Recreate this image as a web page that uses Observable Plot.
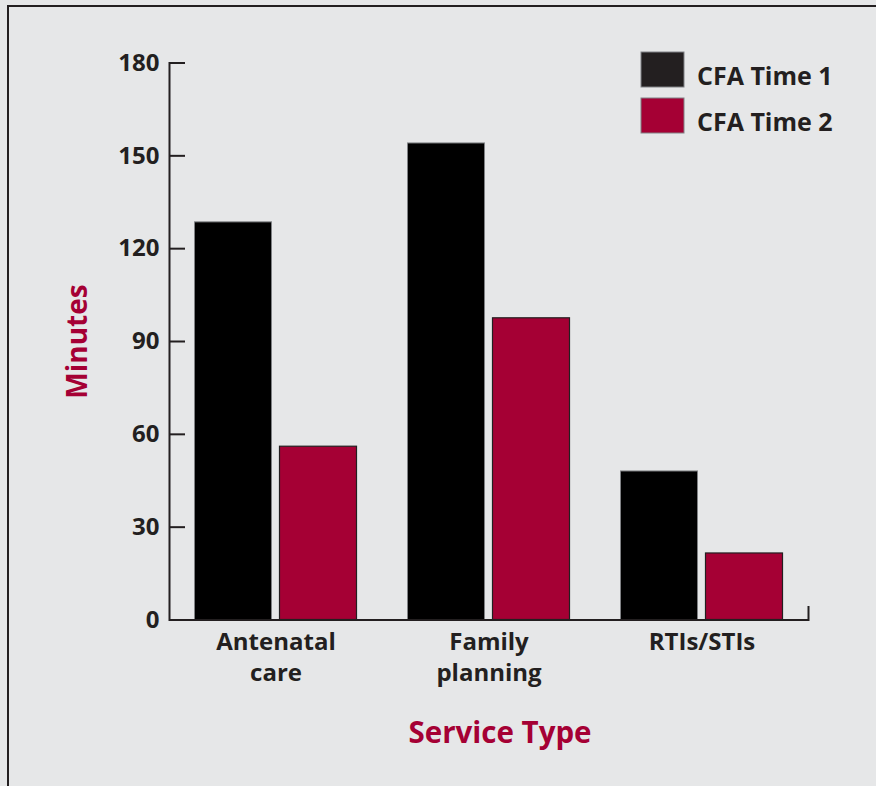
<!DOCTYPE html>
<html><head><meta charset="utf-8">
<script src="https://cdn.jsdelivr.net/npm/d3@7"></script>
<script src="https://cdn.jsdelivr.net/npm/@observablehq/plot@0.6"></script>
<style>
html,body{margin:0;padding:0;background:#e6e7e8;}
#wrap{position:relative;width:876px;height:786px;overflow:hidden;}
#border{position:absolute;left:6.5px;top:4.5px;width:900px;height:900px;border-left:2.6px solid #231f20;border-top:2.6px solid #231f20;}
#chart{position:absolute;left:0;top:0;}
</style></head><body>
<div id="wrap"><div id="border"></div><div id="chart"></div></div>
<script>
const categories = ["Antenatal care", "Family planning", "RTIs/STIs"];
const categoryLabels = ["Antenatal\ncare", "Family\nplanning", "RTIs/STIs"];
const series = ["CFA Time 1", "CFA Time 2"];
const time1 = [128.5, 154, 48];
const time2 = [56, 97.5, 21.5];
const yTicks = [0, 30, 60, 90, 120, 150, 180];
const yTitle = "Minutes";
const xTitle = "Service Type";

const ink = "#231f20";
const red = "#a50034";
const barColors = ["#000000", red];
const swatchColors = [ink, red];
const font = "'Open Sans', sans-serif";

const rows1 = categories.map((c, i) => ({category: c, value: time1[i]}));
const rows2 = categories.map((c, i) => ({category: c, value: time2[i]}));

const plot = Plot.plot({
  width: 876, height: 786,
  marginLeft: 169, marginRight: 68, marginTop: 62.5, marginBottom: 166.5,
  style: {background: "transparent", fontFamily: font, color: ink, overflow: "visible"},
  x: {type: "band", domain: categories, paddingInner: 0.2394, paddingOuter: 0.1197, round: false},
  y: {domain: [0, 180]},
  marks: [
    Plot.barY(rows1, {x: "category", y: "value", fill: barColors[0], stroke: "#808285", strokeWidth: 1, insetRight: 85}),
    Plot.barY(rows2, {x: "category", y: "value", fill: barColors[1], stroke: ink, strokeWidth: 1.2, insetLeft: 85}),
    Plot.frame({anchor: "left", stroke: ink, strokeWidth: 2}),
    Plot.ruleY([0], {stroke: ink, strokeWidth: 2}),
    Plot.frame({anchor: "right", stroke: ink, strokeWidth: 2, insetTop: 544}),
    Plot.axisY({ticks: yTicks, tickSize: 16, dx: 16, tickFormat: () => "", stroke: ink, strokeWidth: 2, label: null}),
    Plot.axisY({ticks: yTicks, tickSize: 0, tickPadding: 10, fontSize: 24, fontWeight: "bold", fill: ink, label: null}),
    Plot.axisX({tickSize: 0, tickPadding: 8, fontSize: 24, fontWeight: "bold", fill: ink, lineHeight: 1.3,
      tickFormat: d => categoryLabels[categories.indexOf(d)], label: null}),
    Plot.text([yTitle], {text: d => d, frameAnchor: "left", textAnchor: "middle", rotate: -90, dx: -102, lineAnchor: "top",
      fill: red, fontSize: 28, fontWeight: "bold"}),
    Plot.text([xTitle], {text: d => d, frameAnchor: "bottom", textAnchor: "middle", dx: 11, dy: 114, lineAnchor: "middle",
      fill: red, fontSize: 29.5, fontWeight: "bold"})
  ]
});

const svg = d3.select(plot);
const legendTop = [52, 98];
series.forEach((s, i) => {
  svg.append("rect").attr("x", 641).attr("y", legendTop[i]).attr("width", 43).attr("height", 35)
    .attr("fill", swatchColors[i]).attr("stroke", "#808285").attr("stroke-width", 1);
  svg.append("text").attr("x", 697).attr("y", legendTop[i] + 33)
    .attr("text-anchor", "start")
    .attr("font-family", font).attr("font-size", 25).attr("font-weight", "bold").attr("fill", ink)
    .text(s);
});

document.getElementById("chart").appendChild(plot);
</script>
</body></html>
